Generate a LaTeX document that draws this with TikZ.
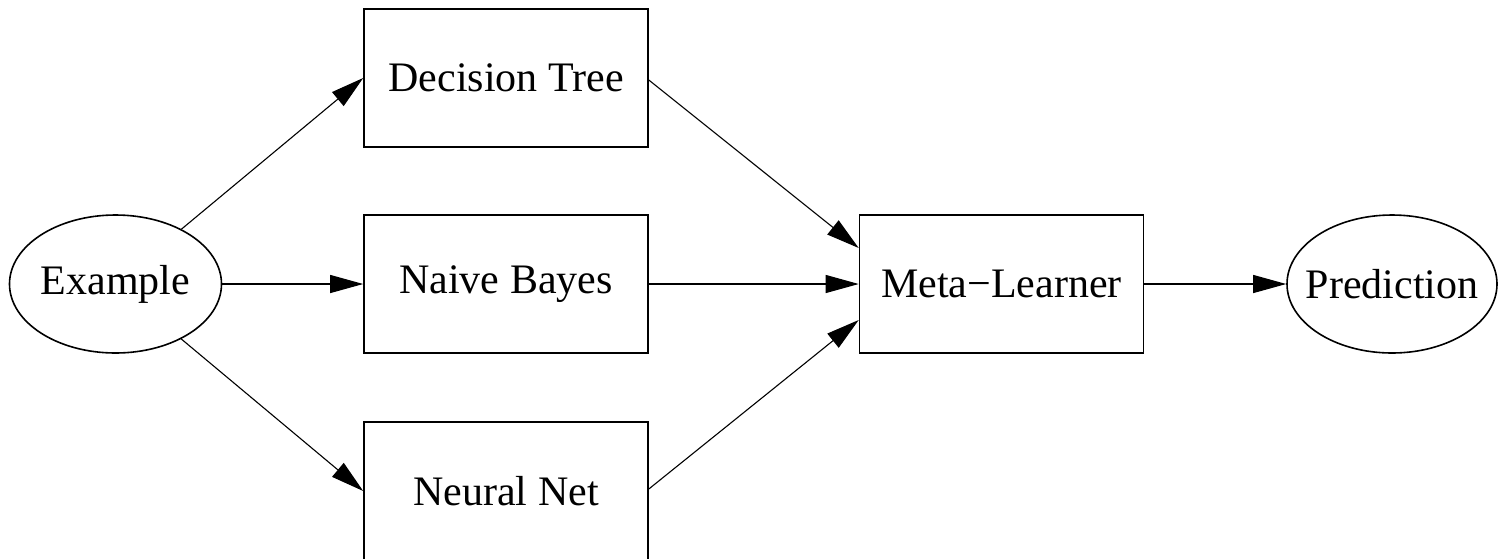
\documentclass[tikz,border=0pt]{standalone}
\usepackage{fontspec}
\setmainfont{Liberation Serif}
\usetikzlibrary{arrows.meta,shapes.geometric}
\begin{document}
\begin{tikzpicture}[x=1pt,y=-1pt,
  every node/.style={font=\fontsize{42}{50}\selectfont, inner sep=0pt},
  boxnode/.style={draw, line width=1.6pt, rectangle, minimum width=284pt, minimum height=138pt},
  ellnode/.style={draw, line width=1.6pt, ellipse, inner xsep=-20pt, minimum width=212pt, minimum height=138pt},
  conn/.style={line width=1.1pt, -{Triangle[length=33pt,width=18pt]}}]
\useasboundingbox (0,0) rectangle (1498,558);
\node[ellnode] (ex) at (115.5,284) {Example};
\node[boxnode] (dt) at (506,78) {Decision Tree};
\node[boxnode] (nb) at (506,284) {Naive Bayes};
\node[boxnode] (nn) at (506,491) {Neural Net};
\node[boxnode] (mt) at (1001.5,284) {Meta−Learner};
\node[ellnode, minimum width=210pt] (pr) at (1392,284) {Prediction};
\draw[conn] (ex) -- (dt.west);
\draw[conn] (ex) -- (nb);
\draw[conn] (ex) -- (nn.west);
\draw[conn] ([yshift=-2pt]dt.east) -- ([yshift=36pt]mt.west);
\draw[conn] (nb) -- (mt);
\draw[conn] ([yshift=2pt]nn.east) -- ([yshift=-36pt]mt.west);
\draw[conn] (mt) -- (pr);
\end{tikzpicture}
\end{document}
